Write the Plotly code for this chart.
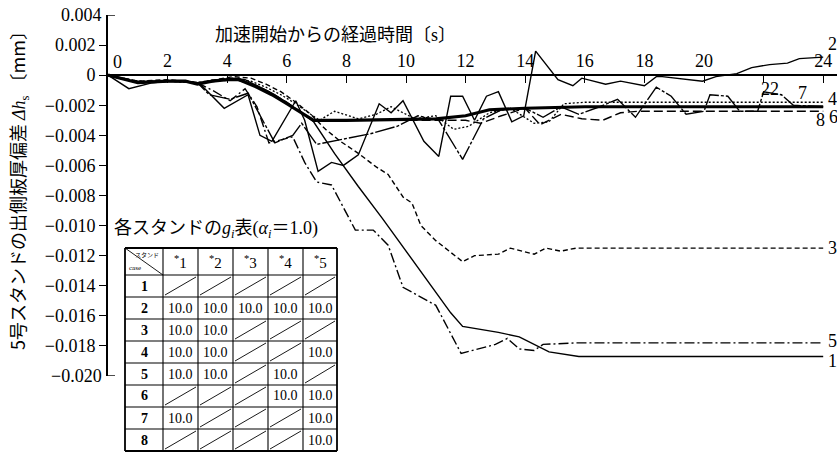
import plotly.graph_objects as go

# ---- data: thickness deviation of stand 5 vs. time after acceleration start ----
t1 = [0, 1.0, 2.0, 2.6, 3.0, 3.6, 4.2, 4.6, 5.0, 5.5, 6.0, 6.5, 6.9, 7.6, 8.4, 9.2, 10.0, 10.8, 11.5, 11.9, 12.5, 13.1, 13.8, 14.8, 15.8, 24.0]
v1 = [0, -0.0005, -0.0004, -0.0004, -0.0005, -0.0004, -0.0002, -0.0003, -0.0007, -0.0012, -0.0018, -0.0025, -0.0031, -0.0052, -0.0074, -0.0095, -0.0117, -0.0139, -0.0158, -0.0167, -0.0169, -0.0171, -0.0174, -0.0184, -0.0187, -0.0187]

t2 = [0, 0.7, 1.5, 2.0, 2.6, 3.0, 3.2, 3.9, 4.7, 5.1, 5.5, 6.3, 6.6, 7.05, 7.5, 7.9, 8.4, 9.1, 9.5, 9.9, 10.6, 11.1, 11.5, 11.9, 12.3, 12.7, 13.1, 13.55, 13.95, 14.35, 15.1, 15.6, 15.9, 16.7, 17.2, 18.0, 18.4, 18.6, 19.95, 20.4, 21.1, 21.6, 22.2, 22.8, 23.2, 24.0]
v2 = [0, -0.0009, -0.0005, -0.0004, -0.0004, -0.0005, -0.0008, -0.0022, -0.0013, -0.0040, -0.0044, -0.0017, -0.0030, -0.0064, -0.0058, -0.0060, -0.0053, -0.0019, -0.0025, -0.0017, -0.0044, -0.0054, -0.0014, -0.0014, -0.0030, -0.0014, -0.0011, -0.0031, -0.0027, 0.0016, -0.0003, -0.0007, -0.0002, -0.0006, -0.0004, -0.0007, -0.0001, -0.0001, -0.0004, -0.0001, 0.0001, 0.0005, 0.0007, 0.0008, 0.0011, 0.0012]

t3 = [0, 1.0, 2.0, 3.0, 3.6, 4.2, 4.8, 5.3, 5.8, 6.3, 6.8, 7.3, 7.8, 8.4, 9.0, 9.4, 9.9, 10.2, 10.5, 11.0, 11.9, 12.3, 13.1, 13.5, 14.3, 14.7, 15.2, 15.7, 24.0]
v3 = [0, -0.0004, -0.0003, -0.0005, -0.0003, -0.0001, -0.0002, -0.0006, -0.0011, -0.0018, -0.0026, -0.0036, -0.0044, -0.0052, -0.0061, -0.0066, -0.0081, -0.0085, -0.0100, -0.0110, -0.0124, -0.0120, -0.0119, -0.0115, -0.0119, -0.0115, -0.0117, -0.0115, -0.0115]

t4 = [0, 1.0, 2.0, 3.0, 3.6, 4.2, 4.8, 5.3, 5.8, 6.3, 6.8, 7.1, 7.6, 8.4, 9.0, 9.5, 10.3, 11.0, 11.6, 12.1, 12.8, 13.5, 14.3, 14.8, 15.3, 16.0, 24.0]
v4 = [0, -0.0004, -0.0004, -0.0005, -0.0003, -0.0002, -0.0004, -0.0008, -0.0013, -0.0019, -0.0026, -0.0030, -0.0024, -0.0029, -0.0026, -0.0021, -0.0029, -0.0027, -0.0036, -0.0034, -0.0025, -0.0022, -0.0032, -0.0031, -0.0019, -0.0018, -0.0018]

t5 = [0, 1.0, 2.0, 3.0, 3.5, 4.1, 4.6, 5.0, 5.4, 6.2, 6.6, 7.0, 7.5, 8.3, 8.9, 9.4, 9.9, 11.0, 11.85, 13.0, 13.4, 13.8, 14.3, 14.6, 15.7, 24.0]
v5 = [0, -0.0005, -0.0004, -0.0005, -0.0010, -0.0017, -0.0009, -0.0021, -0.0045, -0.0041, -0.0058, -0.0071, -0.0073, -0.0103, -0.0103, -0.0113, -0.0141, -0.0153, -0.0185, -0.0179, -0.0175, -0.0182, -0.0183, -0.0179, -0.0178, -0.0178]

t6 = [0, 1.0, 2.0, 2.6, 3.0, 3.5, 4.0, 4.4, 5.0, 5.5, 6.0, 6.5, 6.9, 8.0, 10.0, 11.0, 12.0, 12.8, 14.0, 16.0, 20.0, 24.0]
v6 = [0, -0.0005, -0.0004, -0.0004, -0.0006, -0.0004, -0.0003, -0.0003, -0.0008, -0.0013, -0.0019, -0.0025, -0.0030, -0.0030, -0.0029, -0.0029, -0.0027, -0.0023, -0.0022, -0.0021, -0.0021, -0.0021]

t7 = [0, 1.0, 2.0, 3.0, 3.4, 4.1, 4.7, 5.6, 6.2, 6.5, 7.0, 8.0, 8.8, 9.7, 10.4, 11.1, 11.9, 12.6, 13.2, 14.0, 14.6, 15.2, 15.8, 16.5, 17.1, 17.7, 18.4, 18.9, 19.4, 20.0, 20.2, 20.8, 21.2, 21.8, 22.0, 22.6, 23.0, 24.0]
v7 = [0, -0.0005, -0.0004, -0.0005, -0.0013, -0.0016, -0.0012, -0.0045, -0.0040, -0.0032, -0.0046, -0.0042, -0.0039, -0.0034, -0.0027, -0.0030, -0.0056, -0.0029, -0.0023, -0.0022, -0.0028, -0.0021, -0.0026, -0.0021, -0.0016, -0.0028, -0.0008, -0.0014, -0.0026, -0.0024, -0.0013, -0.0014, -0.0024, -0.0024, -0.0011, -0.0013, -0.0020, -0.0021]

t8 = [0, 1.0, 2.0, 3.0, 3.6, 4.3, 5.0, 5.5, 6.0, 6.5, 6.9, 8.0, 10.0, 12.0, 12.5, 13.2, 14.0, 14.5, 15.2, 15.9, 16.6, 17.2, 17.8, 24.0]
v8 = [0, -0.0004, -0.0004, -0.0005, -0.0004, -0.0003, -0.0007, -0.0012, -0.0018, -0.0025, -0.0030, -0.0030, -0.0030, -0.0030, -0.0032, -0.0027, -0.0022, -0.0033, -0.0026, -0.0029, -0.0030, -0.0025, -0.0024, -0.0024]

case_names = ["1", "2", "3", "4", "5", "6", "7", "8"]
case_times = [t1, t2, t3, t4, t5, t6, t7, t8]
case_values = [v1, v2, v3, v4, v5, v6, v7, v8]

# g_i table (alpha_i = 1.0): rows = case, columns = stand #1..#5, None = not used
stand_labels = ["1", "2", "3", "4", "5"]
gain_table = [
    [None, None, None, None, None],
    ["10.0", "10.0", "10.0", "10.0", "10.0"],
    ["10.0", "10.0", None, None, None],
    ["10.0", "10.0", None, None, "10.0"],
    ["10.0", "10.0", None, "10.0", None],
    [None, None, None, "10.0", "10.0"],
    ["10.0", None, None, None, "10.0"],
    [None, None, None, None, "10.0"],
]

x_ticks = [2, 4, 6, 8, 10, 12, 14, 16, 18, 20, 22, 24]
y_ticks = [0.004, 0.002, 0, -0.002, -0.004, -0.006, -0.008, -0.010, -0.012,
           -0.014, -0.016, -0.018, -0.020]

# ---- layout geometry ----
W, H = 837, 456
ML, MR, MT, MB = 108, 0, 15, 80
PW, PH = W - ML - MR, H - MT - MB
X_MAX = PW / 29.8
Y_MIN, Y_MAX = -0.020, 0.004

SERIF = "Liberation Serif"
JP = "Noto Sans CJK JP"


def px(xp):
    return (xp - ML) / PW


def py(yp):
    return (H - MB - yp) / PH


def serif_span(s):
    return '<span style="font-family:Liberation Serif">' + s + '</span>'


def fmt_tick(v):
    return "0" if v == 0 else ("%.3f" % v).replace("-", "−")


styles = {
    "1": dict(width=1.4, dash="solid"),
    "2": dict(width=1.4, dash="solid"),
    "3": dict(width=1.4, dash="5px,3px"),
    "4": dict(width=1.3, dash="2px,2px"),
    "5": dict(width=1.4, dash="10px,3px,2px,3px"),
    "6": dict(width=3.2, dash="solid"),
    "7": dict(width=1.4, dash="20px,2px,3px,2px"),
    "8": dict(width=1.4, dash="9px,4px"),
}

fig = go.Figure()
for name, tt, vv in zip(case_names, case_times, case_values):
    fig.add_trace(go.Scatter(x=tt, y=vv, mode="lines", name=name,
                             line=dict(color="black", **styles[name]),
                             showlegend=False, hoverinfo="skip"))

ann = []
# curve labels at the right end
end_labels = {"2": (24.3, 0.0021), "4": (24.3, -0.0016), "6": (24.36, -0.0028),
              "8": (23.9, -0.0030), "7": (23.3, -0.0012), "3": (24.3, -0.0115),
              "5": (24.3, -0.0177), "1": (24.3, -0.0190)}
for k, (xx, yy) in end_labels.items():
    ann.append(dict(x=xx, y=yy, text=k, showarrow=False, xanchor="center",
                    yanchor="middle", font=dict(family=SERIF, size=18, color="black")))

# x tick labels that sit off the standard place
ann.append(dict(x=0, y=0, text="0", showarrow=False, xanchor="left", yanchor="bottom",
                xshift=3, yshift=1, font=dict(family=SERIF, size=18, color="black")))
ann.append(dict(x=22, y=0, text="22", showarrow=False, xanchor="center", yanchor="top",
                xshift=6, yshift=-2, font=dict(family=SERIF, size=18, color="black")))

# end labels of the y axis (the axis ends there in a corner instead of a tick)
for yv in (Y_MAX, Y_MIN):
    ann.append(dict(xref="paper", yref="y", x=px(ML - 4), y=yv, text=fmt_tick(yv),
                    showarrow=False, xanchor="right", yanchor="middle",
                    font=dict(family=SERIF, size=18, color="black")))

# axis titles
ann.append(dict(xref="paper", yref="paper", x=px(213), y=py(33),
                text="加速開始からの経過時間〔" + serif_span("s") + "〕",
                showarrow=False, xanchor="left", yanchor="middle",
                font=dict(family=JP, size=18, color="black")))
ann.append(dict(xref="paper", yref="paper", x=px(18), y=py(186),
                text="5号スタンドの出側板厚偏差 " + serif_span("<i>Δh</i><sub>s</sub>") + " 〔mm〕",
                textangle=-90, showarrow=False, xanchor="center", yanchor="middle",
                font=dict(family=JP, size=18, color="black")))

# table caption
ann.append(dict(xref="paper", yref="paper", x=px(112), y=py(227),
                text="各スタンドの" + serif_span("<i>g</i><sub><i>i</i></sub>") + "表"
                     + serif_span("(<i>α</i><sub><i>i</i></sub>") + "＝"
                     + serif_span("1.0)"),
                showarrow=False, xanchor="left", yanchor="middle",
                font=dict(family=JP, size=18, color="black")))

shapes = []
# y-axis end corners
for yv in (Y_MAX, Y_MIN):
    shapes.append(dict(type="line", xref="paper", yref="y", x0=0, x1=px(ML + 7),
                       y0=yv, y1=yv, line=dict(color="black", width=1.4)))

# table grid
TX = [125, 163, 198, 233, 268, 303, 337]
TY = [248, 275] + [275 + 22 * i for i in range(1, 9)]
for xp in TX:
    w = 1.8 if xp in (TX[0], TX[-1]) else 1.1
    shapes.append(dict(type="line", xref="paper", yref="paper", x0=px(xp), x1=px(xp),
                       y0=py(TY[0]), y1=py(TY[-1]), line=dict(color="black", width=w)))
for yp in TY:
    w = 1.8 if yp in (TY[0], TY[-1]) else 1.1
    shapes.append(dict(type="line", xref="paper", yref="paper", x0=px(TX[0]), x1=px(TX[-1]),
                       y0=py(yp), y1=py(yp), line=dict(color="black", width=w)))
# header diagonal
shapes.append(dict(type="line", xref="paper", yref="paper", x0=px(TX[0]), x1=px(TX[1]),
                   y0=py(TY[0]), y1=py(TY[1]), line=dict(color="black", width=0.9)))
ann.append(dict(xref="paper", yref="paper", x=px(TX[1] - 2), y=py(TY[0] + 6), text="スタンド",
                showarrow=False, xanchor="right", yanchor="middle",
                font=dict(family=JP, size=6, color="black")))
ann.append(dict(xref="paper", yref="paper", x=px(TX[0] + 2), y=py(TY[1] - 7), text="case",
                showarrow=False, xanchor="left", yanchor="middle",
                font=dict(family=SERIF, size=7, color="black")))
for j, lab in enumerate(stand_labels):
    ann.append(dict(xref="paper", yref="paper", x=px((TX[j + 1] + TX[j + 2]) / 2),
                    y=py((TY[0] + TY[1]) / 2), text="<sup>*</sup>" + lab, showarrow=False,
                    xanchor="center", yanchor="middle",
                    font=dict(family=SERIF, size=15, color="black")))
for i, row in enumerate(gain_table):
    yc = (TY[i + 1] + TY[i + 2]) / 2
    ann.append(dict(xref="paper", yref="paper", x=px((TX[0] + TX[1]) / 2), y=py(yc),
                    text="<b>" + case_names[i] + "</b>", showarrow=False,
                    xanchor="center", yanchor="middle",
                    font=dict(family=SERIF, size=14, color="black")))
    for j, val in enumerate(row):
        if val is None:
            shapes.append(dict(type="line", xref="paper", yref="paper",
                               x0=px(TX[j + 1] + 2), x1=px(TX[j + 2] - 2),
                               y0=py(TY[i + 2] - 2), y1=py(TY[i + 1] + 2),
                               line=dict(color="black", width=0.9)))
        else:
            ann.append(dict(xref="paper", yref="paper", x=px((TX[j + 1] + TX[j + 2]) / 2),
                            y=py(yc), text=val, showarrow=False, xanchor="center",
                            yanchor="middle", font=dict(family=SERIF, size=14, color="black")))

inner_y = [v for v in y_ticks if v not in (Y_MAX, Y_MIN)]
fig.update_layout(
    width=W, height=H, margin=dict(l=ML, r=MR, t=MT, b=MB),
    paper_bgcolor="white", plot_bgcolor="white",
    xaxis=dict(range=[0, X_MAX], anchor="free", position=(0 - Y_MIN) / (Y_MAX - Y_MIN),
               side="top", showline=True, linecolor="black", linewidth=1.8,
               ticks="inside", ticklen=7, tickwidth=1.4, tickcolor="black",
               tickvals=x_ticks, ticktext=["" if v == 22 else str(v) for v in x_ticks],
               showgrid=False, zeroline=False,
               tickfont=dict(family=SERIF, size=18, color="black")),
    yaxis=dict(range=[Y_MIN, Y_MAX], showline=True, linecolor="black", linewidth=1.8,
               ticks="outside", ticklen=7, tickwidth=1.4, tickcolor="black",
               tickvals=inner_y, ticktext=[fmt_tick(v) for v in inner_y],
               showgrid=False, zeroline=False,
               tickfont=dict(family=SERIF, size=18, color="black")),
    annotations=ann, shapes=shapes,
)

fig.write_html("out.html")
